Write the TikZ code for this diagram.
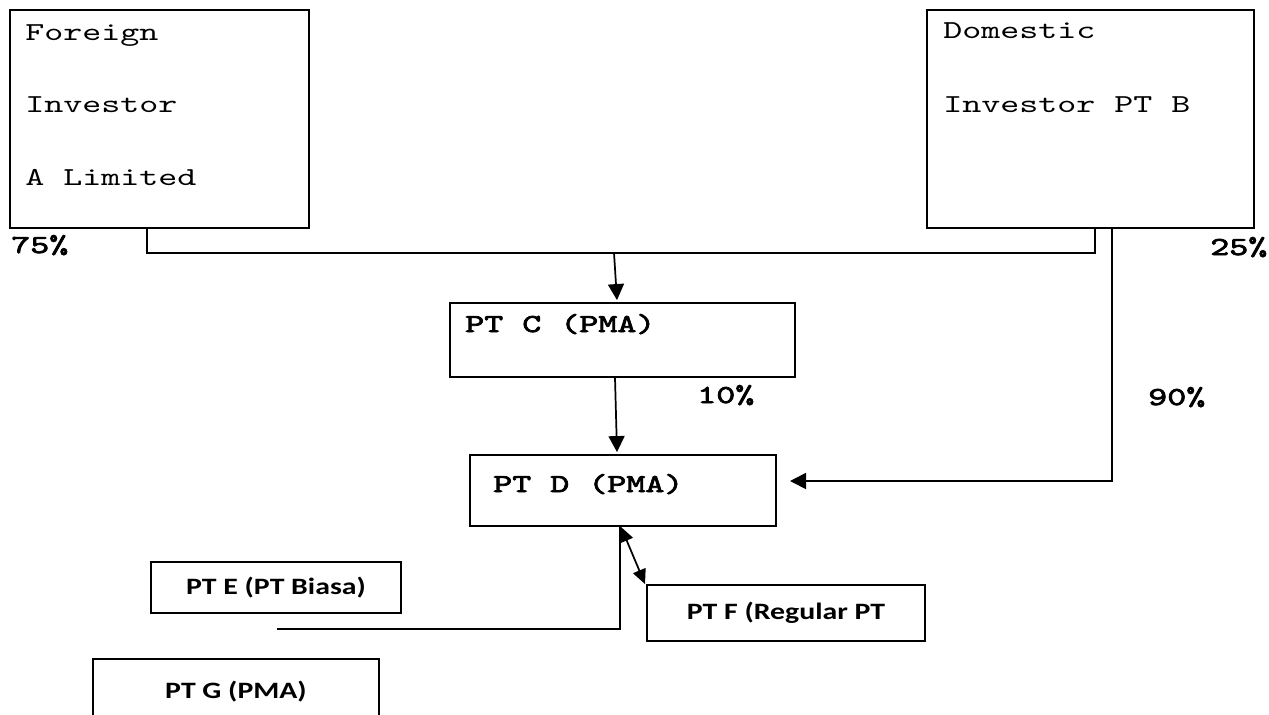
\documentclass[tikz,border=0pt]{standalone}
\usepackage{fontspec}
\usetikzlibrary{arrows.meta,fit}
\newfontfamily\courfont[FakeStretch=1.4]{lmmono10-regular.otf}
\newfontfamily\courbfont[FakeStretch=1.4,FakeBold=3]{lmmono10-regular.otf}
\newfontfamily\califont[FakeStretch=1.27]{Carlito}
\tikzset{
  x=0.75pt, y=-0.75pt,
  box/.style={draw, line width=1.4pt, inner sep=0pt},
  cour/.style={font=\courfont\fontsize{19.4}{20}\selectfont, inner sep=0pt, anchor=base west},
  courb/.style={font=\courbfont\fontsize{19.4}{20}\selectfont, inner sep=0pt, anchor=base west},
  cali/.style={font=\califont\bfseries\fontsize{17.6}{20}\selectfont, inner sep=0pt},
  conn/.style={line width=1.3pt},
  arr/.style={line width=1.3pt, -{Triangle[length=12pt,width=12pt]}},
  darr/.style={line width=1.3pt, {Triangle[length=11pt,width=10pt]}-{Triangle[length=11pt,width=10pt]}}
}
\begin{document}
\begin{tikzpicture}
\clip (0,0) rectangle (1269,714);
\fill[white] (0,0) rectangle (1269,714);
% boxes
\node[box, fit={(10,10) (309,228)}] (fa) {};
\node[box, fit={(927,10) (1254,228)}] (db) {};
\node[box, fit={(450,303) (795,377)}] (ptc) {};
\node[box, fit={(470,455) (776,526)}] (ptd) {};
\node[box, fit={(647,585) (925,641)}] (ptf) {};
\node[box, fit={(151,562) (401,613)}] (pte) {};
\node[box, fit={(93,659) (379,740)}] (ptg) {};
% texts
\node[cour] (fa1) at (25,40) {Foreign};
\node[cour] (fa2) at (25,112) {Investor};
\node[cour] (fa3) at (25,185) {A Limited};
\node[cour] (db1) at (943,38) {Domestic};
\node[cour] (db2) at (943,112) {Investor PT B};
\node[courb] (ptct) at (465,332) {PT C (PMA)};
\node[courb] (ptdt) at (493,492) {PT D (PMA)};
\node[courb] (p75) at (11,253) {75\%};
\node[courb] (p25) at (1210,255) {25\%};
\node[courb] (p10) at (697,403) {10\%};
\node[courb] (p90) at (1148,405) {90\%};
\node[cali] (ptet) at (276,588) {PT E (PT Biasa)};
\node[cali] (ptft) at (786,613) {PT F (Regular PT};
\node[cali] (ptgt) at (236,692) {PT G (PMA)};
% connectors
\coordinate (j1) at (614,253);
\coordinate (dtip) at (790,481);
\coordinate (eend) at (277,629);
\draw[conn] (147,0 |- fa.south) |- (1095,253) -- (1095,0 |- db.south);
\draw[arr] (j1) -- ([yshift=1.5pt]617,0 |- ptc.north);
\draw[arr] (615,0 |- ptc.south) -- ([yshift=1.5pt]617,0 |- ptd.north);
\draw[arr] (1112,0 |- db.south) |- (dtip);
\draw[darr] (621,0 |- ptd.south) -- (645,0 |- ptf.north);
\draw[conn] (620,0 |- ptd.south) |- (eend);
\end{tikzpicture}
\end{document}
